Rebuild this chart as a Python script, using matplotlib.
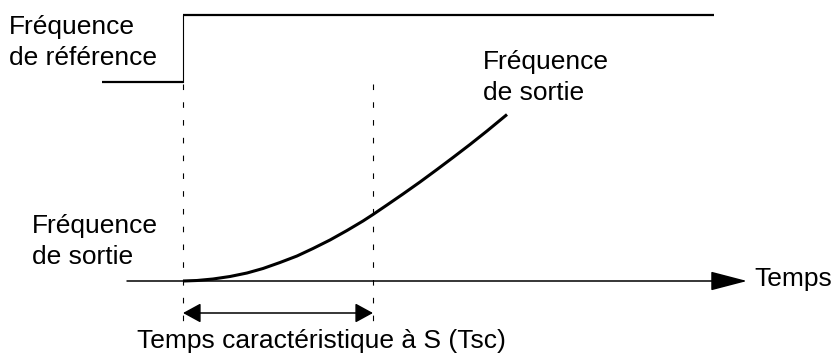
import matplotlib
matplotlib.use("Agg")
import matplotlib.pyplot as plt
from matplotlib.patches import FancyArrowPatch

plt.rcParams['font.family'] = ['Liberation Sans', 'DejaVu Sans']

# time instants of the schematic (x, in figure pixels)
t_start = 183
t_sc = 373
t_axis = [127, 747]
y_axis = 281

# reference frequency step
ref_t = [102, 183, 183, 714]
ref_f = [82, 82, 15, 15]

# output frequency S-curve
out_t = [183, 197, 213, 230, 247, 263, 280, 297, 313, 330, 347, 363, 373,
         387, 403, 420, 437, 453, 470, 487, 507]
out_f = [281, 280.5, 279, 276.5, 273, 268.5, 262.5, 256, 248.5, 240, 230.5,
         221, 214.5, 205, 194, 182, 169.5, 157.5, 144.5, 131, 114.5]

labels = [
    ("Fréquence\nde référence", 9, 65),
    ("Fréquence\nde sortie", 483, 100),
    ("Fréquence\nde sortie", 32, 264),
]

fig = plt.figure(figsize=(8.33, 3.56), dpi=100)
ax = fig.add_axes([0, 0, 1, 1])
ax.set_xlim(0, 833)
ax.set_ylim(356, 0)
ax.axis('off')

fs = 19

# reference step
ax.plot(ref_t[:2], ref_f[:2], color='black', lw=1.6, solid_capstyle='butt')
ax.plot(ref_t[1:3], ref_f[1:3], color='black', lw=0.8)
ax.plot(ref_t[2:], ref_f[2:], color='black', lw=1.6, solid_capstyle='butt')

# dashed markers
for t in (t_start, t_sc):
    ax.plot([t, t], [84, 322], color='black', lw=0.8, dashes=(5, 11))

# time axis
ax.add_patch(FancyArrowPatch((t_axis[0], y_axis), (t_axis[1], y_axis),
                             arrowstyle='-|>,head_length=23,head_width=6',
                             mutation_scale=1, color='black', lw=1.1,
                             shrinkA=0, shrinkB=0))
ax.text(754, y_axis - 2, "Temps", fontsize=fs, va='center', ha='left')

# output curve
ax.plot(out_t, out_f, color='black', lw=2.2, solid_capstyle='butt',
        solid_joinstyle='round')

# Tsc span
ax.add_patch(FancyArrowPatch((t_start, 313), (t_sc, 313),
                             arrowstyle='<|-|>,head_length=11,head_width=6',
                             mutation_scale=1, color='black', lw=1.1,
                             shrinkA=0, shrinkB=0))
ax.text(137, 348, "Temps caractéristique à S (Tsc)", fontsize=fs,
        va='baseline', ha='left')

for txt, x, y in labels:
    ax.text(x, y, txt, fontsize=fs, va='baseline', ha='left', linespacing=1.35)

fig.savefig("out.png", dpi=100)
